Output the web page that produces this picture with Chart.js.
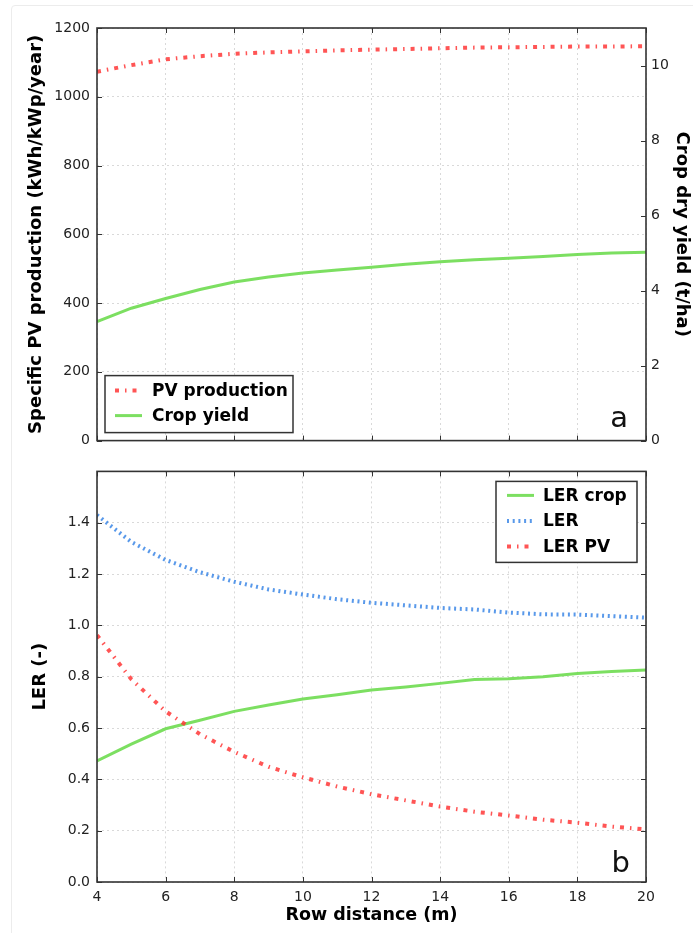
<!DOCTYPE html>
<html>
<head>
<meta charset="utf-8">
<script src="https://cdn.jsdelivr.net/npm/chart.js@4.4.1/dist/chart.umd.min.js"></script>
<style>
  html, body { margin: 0; padding: 0; background: #fff; }
  #wrap { position: relative; width: 693px; height: 933px; overflow: hidden; }
  #card { position: absolute; left: 11px; top: 5px; width: 720px; height: 960px;
          border: 1px solid #ececec; border-radius: 4px; }
  canvas { position: absolute; left: 0; }
  #top { top: 0; }
  #bottom { top: 456px; }
</style>
</head>
<body>
<div id="wrap">
  <div id="card"></div>
  <canvas id="top" width="693" height="456"></canvas>
  <canvas id="bottom" width="693" height="477"></canvas>
</div>
<script>
// row distance (m)
const rowDistance = [4, 5, 6, 7, 8, 9, 10, 11, 12, 13, 14, 15, 16, 17, 18, 19, 20];
// panel a
const pvProduction = [1073, 1092, 1109, 1118, 1125, 1129, 1132, 1135, 1137, 1139, 1141, 1143, 1144, 1145, 1146, 1146, 1147];
const cropYield = [3.17, 3.53, 3.79, 4.03, 4.23, 4.36, 4.47, 4.55, 4.62, 4.70, 4.77, 4.82, 4.86, 4.91, 4.96, 5.00, 5.02];
// panel b
const lerCrop = [0.472, 0.537, 0.597, 0.630, 0.665, 0.690, 0.713, 0.730, 0.748, 0.760, 0.774, 0.789, 0.792, 0.800, 0.812, 0.820, 0.826];
const ler = [1.430, 1.325, 1.255, 1.207, 1.170, 1.140, 1.120, 1.102, 1.088, 1.078, 1.068, 1.062, 1.050, 1.043, 1.042, 1.036, 1.030];
const lerPv = [0.962, 0.790, 0.665, 0.576, 0.507, 0.449, 0.408, 0.372, 0.342, 0.318, 0.294, 0.274, 0.259, 0.243, 0.231, 0.216, 0.205];

const pts = ys => rowDistance.map((x, i) => ({ x: x, y: ys[i] }));

Chart.defaults.font.family = "'DejaVu Sans', sans-serif";
Chart.defaults.font.size = 14;
Chart.defaults.color = '#222';

const RED = 'rgba(255, 55, 55, 0.85)';
const BLUE = 'rgba(60, 135, 230, 0.85)';
const GREEN = 'rgba(110, 220, 80, 0.9)';
const redDash = [4, 6, 1.5, 6];
const blueDash = [2, 3.7];

const gridStyle = { color: '#d9d9d9', lineWidth: 1, drawTicks: false };
const noBorder = { display: false, dash: [2, 3] };
const yTitleFont = { size: 18, weight: 'bold' };
const xTitleFont = { size: 17.5, weight: 'bold' };

// frame, inward ticks, boxed legend and panel letter
const panelDecor = {
  id: 'panelDecor',
  afterDraw(chart, args, opts) {
    const { ctx, chartArea: a, scales } = chart;
    const line = (x1, y1, x2, y2) => { ctx.beginPath(); ctx.moveTo(x1, y1); ctx.lineTo(x2, y2); ctx.stroke(); };
    ctx.save();
    ctx.strokeStyle = '#333';
    ctx.lineWidth = 1;
    scales.x.ticks.forEach(t => {
      const px = Math.round(scales.x.getPixelForValue(t.value)) + 0.5;
      line(px, a.top, px, a.top + 5);
      line(px, a.bottom, px, a.bottom - 5);
    });
    scales.y.ticks.forEach(t => {
      const py = Math.round(scales.y.getPixelForValue(t.value)) + 0.5;
      line(a.left, py, a.left + 5, py);
      if (!scales.y1) line(a.right, py, a.right - 5, py);
    });
    if (scales.y1) {
      scales.y1.ticks.forEach(t => {
        const py = Math.round(scales.y1.getPixelForValue(t.value)) + 0.5;
        line(a.right, py, a.right - 5, py);
      });
    }
    ctx.lineWidth = 1.6;
    ctx.strokeStyle = '#333';
    ctx.strokeRect(a.left, a.top, a.width, a.height);

    // legend
    const L = opts.legend;
    const bx = L.fromRight ? a.right - L.dx - L.w : a.left + L.dx;
    const by = L.fromBottom ? a.bottom - L.dy - L.h : a.top + L.dy;
    ctx.fillStyle = '#fff';
    ctx.fillRect(bx, by, L.w, L.h);
    ctx.lineWidth = 1.5;
    ctx.strokeStyle = '#333';
    ctx.strokeRect(bx, by, L.w, L.h);
    ctx.font = "bold 17px 'DejaVu Sans'";
    ctx.textBaseline = 'middle';
    ctx.textAlign = 'left';
    chart.data.datasets.forEach((ds, i) => {
      const cy = by + L.first + i * L.step;
      ctx.save();
      ctx.strokeStyle = ds.borderColor;
      ctx.lineWidth = ds.borderWidth;
      ctx.setLineDash(ds.borderDash || []);
      line(bx + L.sx, cy, bx + L.sx + 27, cy);
      ctx.restore();
      ctx.fillStyle = '#000';
      ctx.fillText(ds.label, bx + L.tx, cy + 1);
    });

    // panel letter
    ctx.font = "29px 'DejaVu Sans'";
    ctx.textAlign = 'right';
    ctx.textBaseline = 'alphabetic';
    ctx.fillStyle = '#111';
    ctx.fillText(opts.letter, a.right - opts.lx, a.bottom - opts.ly);
    ctx.restore();
  }
};

new Chart(document.getElementById('top'), {
  type: 'line',
  data: {
    datasets: [
      { label: 'PV production', data: pts(pvProduction), yAxisID: 'y', borderColor: RED, borderWidth: 4,
        borderDash: redDash, borderCapStyle: 'butt', pointRadius: 0, tension: 0, fill: false },
      { label: 'Crop yield', data: pts(cropYield), yAxisID: 'y1', borderColor: GREEN, borderWidth: 3,
        pointRadius: 0, tension: 0, fill: false }
    ]
  },
  options: {
    responsive: false,
    animation: false,
    layout: { padding: { top: 28, left: 0, right: 0, bottom: 0 } },
    scales: {
      x: {
        type: 'linear', min: 4, max: 20,
        ticks: { stepSize: 2, display: false },
        grid: gridStyle, border: noBorder,
        afterFit: s => { s.height = 4; }
      },
      y: {
        position: 'left', min: 0, max: 1200,
        ticks: { stepSize: 200, padding: 7, callback: v => String(v) },
        grid: gridStyle, border: noBorder,
        title: { display: true, text: 'Specific PV production (kWh/kWp/year)', font: yTitleFont, color: '#000',
                 padding: { top: 26, bottom: 0 } },
        afterFit: s => { s.width = 97; }
      },
      y1: {
        position: 'right', min: 0, max: 11,
        ticks: { stepSize: 2, padding: 5, includeBounds: false, callback: v => String(v) },
        grid: { display: false, drawTicks: false }, border: { display: false },
        title: { display: true, text: 'Crop dry yield (t/ha)', font: yTitleFont, color: '#000',
                 padding: { top: 1, bottom: 0 } },
        afterFit: s => { s.width = 47; }
      }
    },
    plugins: {
      legend: { display: false },
      tooltip: { enabled: false },
      panelDecor: {
        letter: 'a', lx: 18, ly: 14,
        legend: { fromBottom: true, dx: 8, dy: 8, w: 188, h: 57, first: 15, step: 25, sx: 10, tx: 47 }
      }
    }
  },
  plugins: [panelDecor]
});

new Chart(document.getElementById('bottom'), {
  type: 'line',
  data: {
    datasets: [
      { label: 'LER crop', data: pts(lerCrop), borderColor: GREEN, borderWidth: 3,
        pointRadius: 0, tension: 0, fill: false, order: 3 },
      { label: 'LER', data: pts(ler), borderColor: BLUE, borderWidth: 4, borderDash: blueDash,
        borderCapStyle: 'butt', pointRadius: 0, tension: 0, fill: false, order: 2 },
      { label: 'LER PV', data: pts(lerPv), borderColor: RED, borderWidth: 4, borderDash: redDash,
        borderCapStyle: 'butt', pointRadius: 0, tension: 0, fill: false, order: 1 }
    ]
  },
  options: {
    responsive: false,
    animation: false,
    layout: { padding: { top: 1, left: 0, right: 47, bottom: 0 } },
    scales: {
      x: {
        type: 'linear', min: 4, max: 20,
        ticks: { stepSize: 2, padding: 7 },
        grid: gridStyle, border: noBorder,
        title: { display: true, text: 'Row distance (m)', font: xTitleFont, color: '#000',
                 padding: { top: 0, bottom: 7 } },
        afterFit: s => { s.height = 51; }
      },
      y: {
        position: 'left', min: 0, max: 1.6,
        ticks: { stepSize: 0.2, padding: 7, callback: v => v.toFixed(1) },
        afterBuildTicks: s => { s.ticks = s.ticks.filter(t => t.value < 1.5); },
        grid: gridStyle, border: noBorder,
        title: { display: true, text: 'LER (-)', font: yTitleFont, color: '#000',
                 padding: { top: 30, bottom: 0 } },
        afterFit: s => { s.width = 97; }
      }
    },
    plugins: {
      legend: { display: false },
      tooltip: { enabled: false },
      panelDecor: {
        letter: 'b', lx: 16, ly: 10,
        legend: { fromRight: true, dx: 9, dy: 10, w: 141, h: 81, first: 14, step: 25.5, sx: 11, tx: 47 }
      }
    }
  },
  plugins: [panelDecor]
});
</script>
</body>
</html>
